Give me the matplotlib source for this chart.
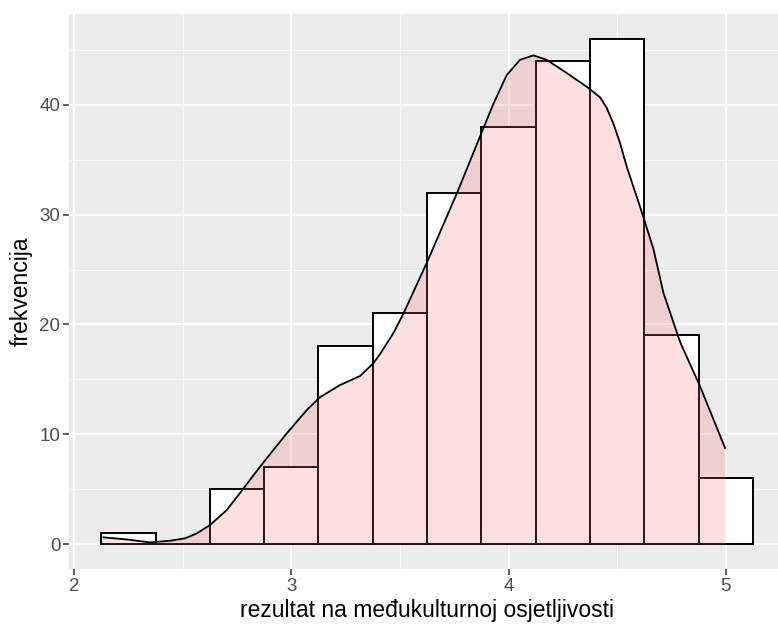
import matplotlib
matplotlib.use("Agg")
import matplotlib.pyplot as plt
import numpy as np

# histogram bins (width 0.25) and counts
bin_centers = [2.25, 2.5, 2.75, 3.0, 3.25, 3.5, 3.75, 4.0, 4.25, 4.5, 4.75, 5.0]
counts = [1, 0, 5, 7, 18, 21, 32, 38, 44, 46, 19, 6]
bin_width = 0.25

# density curve (scaled to counts)
dens_x = [2.135, 2.242, 2.35, 2.442, 2.511, 2.565, 2.626, 2.703, 2.772, 2.856,
          2.917, 2.979, 3.071, 3.131, 3.224, 3.316, 3.377, 3.408, 3.469, 3.515,
          3.623, 3.761, 3.868, 3.930, 3.991, 4.052, 4.114, 4.175, 4.267, 4.359,
          4.420, 4.452, 4.482, 4.513, 4.543, 4.605, 4.666, 4.712, 4.789, 4.880,
          4.996]
dens_y = [0.61, 0.42, 0.15, 0.30, 0.52, 0.97, 1.73, 3.1, 4.86, 7.04,
          8.56, 10.08, 12.2, 13.36, 14.48, 15.3, 16.45, 17.3, 19.19, 20.95,
          25.6, 31.9, 37.1, 40.1, 42.7, 44.1, 44.5, 44.1, 42.9, 41.65,
          40.7, 39.7, 38.3, 36.5, 34.4, 30.7, 26.9, 22.9, 18.4, 14.4,
          8.75]

x_ticks = [2, 3, 4, 5]
y_ticks = [0, 10, 20, 30, 40]

plt.rcParams['font.family'] = ['Liberation Sans', 'DejaVu Sans']

fig = plt.figure(figsize=(7.78, 6.29), dpi=100)
ax = fig.add_axes([68.6 / 778, (629 - 569.3) / 629, 717.1 / 778, (569.3 - 13.7) / 629])
ax.set_facecolor('#EBEBEB')

ax.bar(bin_centers, counts, width=bin_width, color='white', edgecolor='black',
       linewidth=1.4, zorder=2)

ax.fill_between(dens_x, 0, dens_y, color='#FF6666', alpha=0.2, linewidth=0, zorder=3)
ax.plot(dens_x, dens_y, color='black', linewidth=1.3, zorder=4)

ax.set_xlim(1.975, 5.275)
ax.set_ylim(-2.3, 48.3)

ax.set_xticks(x_ticks)
ax.set_yticks(y_ticks)
ax.set_xticks([2.5, 3.5, 4.5], minor=True)
ax.set_yticks([5, 15, 25, 35, 45], minor=True)
ax.grid(which='major', color='white', linewidth=1.3, zorder=0)
ax.grid(which='minor', color='white', linewidth=0.6, zorder=0)
ax.set_axisbelow(True)

for s in ax.spines.values():
    s.set_visible(False)

ax.tick_params(which='major', length=4, width=1.1, color='#333333',
               labelcolor='#4D4D4D', labelsize=13.5, pad=2)
ax.tick_params(which='minor', length=0)

ax.set_xlabel('rezultat na međukulturnoj osjetljivosti', fontsize=16.5, labelpad=3)
ax.set_ylabel('frekvencija', fontsize=16.5, labelpad=5)

fig.savefig('out.png', dpi=100)
